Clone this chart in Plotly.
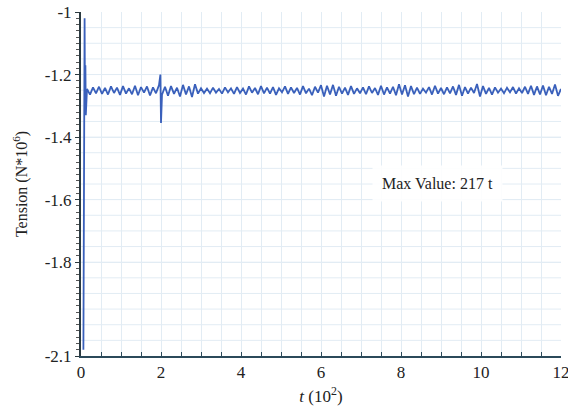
import numpy as np
import plotly.graph_objects as go

# start transient
t_start = [0.06, 0.09, 0.10, 0.11, 0.12]
v_start = [-2.08, -1.02, -1.32, -1.17, -1.33]

# spike at t = 2
t_spike = [1.985, 2.0]
v_spike = [-1.20, -1.355]

# steady oscillation (t step 0.075 from 0.15)
t_osc = np.round(np.arange(0.15, 12.01, 0.075), 3)
v_osc = [
    -1.246, -1.264, -1.241, -1.260, -1.239, -1.262, -1.243, -1.264, -1.238, -1.259,
    -1.242, -1.265, -1.237, -1.261, -1.244, -1.263, -1.236, -1.266, -1.240, -1.258,
    -1.238, -1.267, -1.241, -1.260, -1.234, -1.264, -1.239, -1.268, -1.237, -1.262,
    -1.242, -1.270, -1.233, -1.264, -1.238, -1.272, -1.231, -1.261, -1.244, -1.259,
    -1.245, -1.260, -1.242, -1.258, -1.246, -1.261, -1.241, -1.257, -1.244, -1.262,
    -1.240, -1.259, -1.245, -1.264, -1.238, -1.258, -1.243, -1.263, -1.237, -1.260,
    -1.242, -1.261, -1.240, -1.265, -1.244, -1.257, -1.238, -1.262, -1.241, -1.259,
    -1.243, -1.264, -1.237, -1.260, -1.245, -1.266, -1.239, -1.258, -1.234, -1.270,
    -1.236, -1.264, -1.233, -1.268, -1.239, -1.261, -1.242, -1.265, -1.237, -1.262,
    -1.244, -1.260, -1.241, -1.263, -1.238, -1.259, -1.243, -1.265, -1.236, -1.264,
    -1.241, -1.261, -1.239, -1.266, -1.231, -1.264, -1.234, -1.270, -1.237, -1.263,
    -1.242, -1.262, -1.245, -1.258, -1.240, -1.264, -1.236, -1.261, -1.243, -1.263,
    -1.241, -1.260, -1.238, -1.265, -1.233, -1.268, -1.240, -1.261, -1.242, -1.259,
    -1.230, -1.270, -1.237, -1.262, -1.243, -1.264, -1.241, -1.258, -1.245, -1.260,
    -1.242, -1.257, -1.240, -1.261, -1.244, -1.259, -1.239, -1.262, -1.236, -1.265,
    -1.238, -1.264, -1.235, -1.266, -1.239, -1.262, -1.232, -1.268, -1.246,
]

t_all = list(t_start) + list(t_spike) + list(t_osc[:len(v_osc)])
v_all = list(v_start) + list(v_spike) + list(v_osc)
order = np.argsort(t_all, kind="stable")
t = [t_all[i] for i in order]
v = [v_all[i] for i in order]

y_ticks = [-1, -1.2, -1.4, -1.6, -1.8, -2.1]
y_labels = ["-1", "-1.2", "-1.4", "-1.6", "-1.8", "-2.1"]
x_ticks = [0, 2, 4, 6, 8, 10, 12]

font_family = "Liberation Serif, Times New Roman, serif"

fig = go.Figure()
fig.add_trace(go.Scatter(x=t, y=v, mode="lines",
                         line=dict(color="#3a60bb", width=1.8),
                         showlegend=False))

fig.add_annotation(x=8.9, y=-1.549, xref="x", yref="y",
                   text="Max Value: 217 t", showarrow=False,
                   font=dict(family=font_family, size=16, color="#222"),
                   bgcolor="rgba(255,255,255,0.9)", borderpad=9)

grid_c = "#e2ecf4"
fig.update_layout(
    width=568, height=414,
    margin=dict(l=81, r=7, t=12, b=58, autoexpand=False),
    paper_bgcolor="white", plot_bgcolor="white",
    font=dict(family=font_family, size=17, color="#222"),
    xaxis=dict(range=[0, 12], tickvals=x_ticks, ticktext=[str(x) for x in x_ticks],
               automargin=False, ticklabeloverflow="allow",
               showgrid=True, gridcolor=grid_c, gridwidth=1,
               showline=True, linecolor="#2b4a5a", linewidth=1.5,
               ticks="inside", ticklen=4, tickcolor="#2b4a5a",
               minor=dict(dtick=0.5, tick0=0, ticks="inside", ticklen=4,
                          tickcolor="#2b4a5a", showgrid=True, gridcolor=grid_c),
               zeroline=False,
               title=dict(text="<i>t</i> (10<sup>2</sup>)", font=dict(size=17), standoff=9)),
    yaxis=dict(range=[-2.1, -1.0], tickvals=y_ticks, ticktext=y_labels,
               automargin=False,
               showgrid=True, gridcolor=grid_c, gridwidth=1,
               showline=True, linecolor="#2b3a40", linewidth=2,
               ticks="outside", ticklen=4, tickcolor="#2b3a40",
               minor=dict(dtick=0.02, tick0=-2.1, ticks="outside", ticklen=3,
                          tickcolor="#555", showgrid=False),
               zeroline=False,
               title=dict(text="Tension (N*10<sup>6</sup>)", font=dict(size=16), standoff=13)),
)
for yy in np.round(np.arange(-2.05, -1.0, 0.05), 3):
    fig.add_hline(y=yy, line=dict(color=grid_c, width=1), layer="below")

fig.write_html("out.html", config={"displayModeBar": False},
               post_script="document.body.style.margin='0';document.body.style.overflow='hidden';")
